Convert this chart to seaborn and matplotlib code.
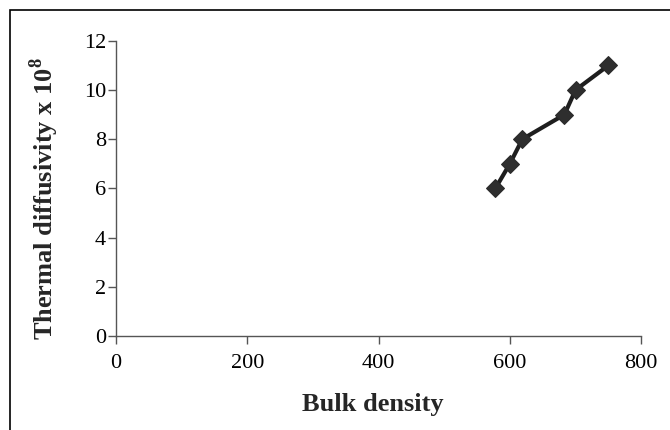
import matplotlib
matplotlib.use("Agg")
import matplotlib.pyplot as plt
import seaborn as sns
import pandas as pd
from matplotlib.patches import Rectangle

bulk_density = [578, 600, 619, 683, 700, 750]
thermal_diffusivity = [6, 7, 8, 9, 10, 11]
x_ticks = [0, 200, 400, 600, 800]
y_ticks = [0, 2, 4, 6, 8, 10, 12]

df = pd.DataFrame({"Bulk density": bulk_density, "Thermal diffusivity": thermal_diffusivity})

sns.set_style("ticks")
plt.rcParams["font.family"] = ["Liberation Serif", "DejaVu Serif"]
plt.rcParams["mathtext.fontset"] = "custom"
plt.rcParams["mathtext.rm"] = "Liberation Serif"
plt.rcParams["mathtext.bf"] = "Liberation Serif:bold"

fig = plt.figure(figsize=(6.7, 4.3), dpi=100)
ax = fig.add_axes([0.173, 0.219, 0.784, 0.686])

sns.lineplot(data=df, x="Bulk density", y="Thermal diffusivity", ax=ax,
             color="#1e1e1e", linewidth=3.0, marker="D", markersize=9.5,
             markeredgecolor="#2a2a2a", markerfacecolor="#2e2e2e", sort=False)

ax.set_xlim(0, 800)
ax.set_ylim(0, 12)
ax.set_xticks(x_ticks)
ax.set_yticks(y_ticks)
ax.tick_params(axis="both", direction="out", length=6, width=1, color="#555555",
               labelsize=16, labelcolor="black")
ax.tick_params(axis="y", pad=1)
ax.tick_params(axis="x", pad=7)
for s in ["top", "right"]:
    ax.spines[s].set_visible(False)
for s in ["left", "bottom"]:
    ax.spines[s].set_color("#555555")
    ax.spines[s].set_linewidth(1)

ax.set_xlabel("Bulk density", fontsize=19, fontweight="bold")
ax.set_ylabel(r"Thermal diffusivity x 10$^{\mathbf{8}}$", fontsize=19,
              fontweight="bold")
ax.xaxis.set_label_coords(0.49, -0.234)
ax.yaxis.set_label_coords(-0.137, 0.464)
ax.xaxis.label.set_va("center")
ax.yaxis.label.set_va("center")

fig.patches.append(Rectangle((10 / 670, -0.1), 1.2, 1 - 10 / 430 + 0.1,
                             transform=fig.transFigure, fill=False,
                             edgecolor="black", linewidth=1.2))

fig.savefig("out.png", dpi=100)
